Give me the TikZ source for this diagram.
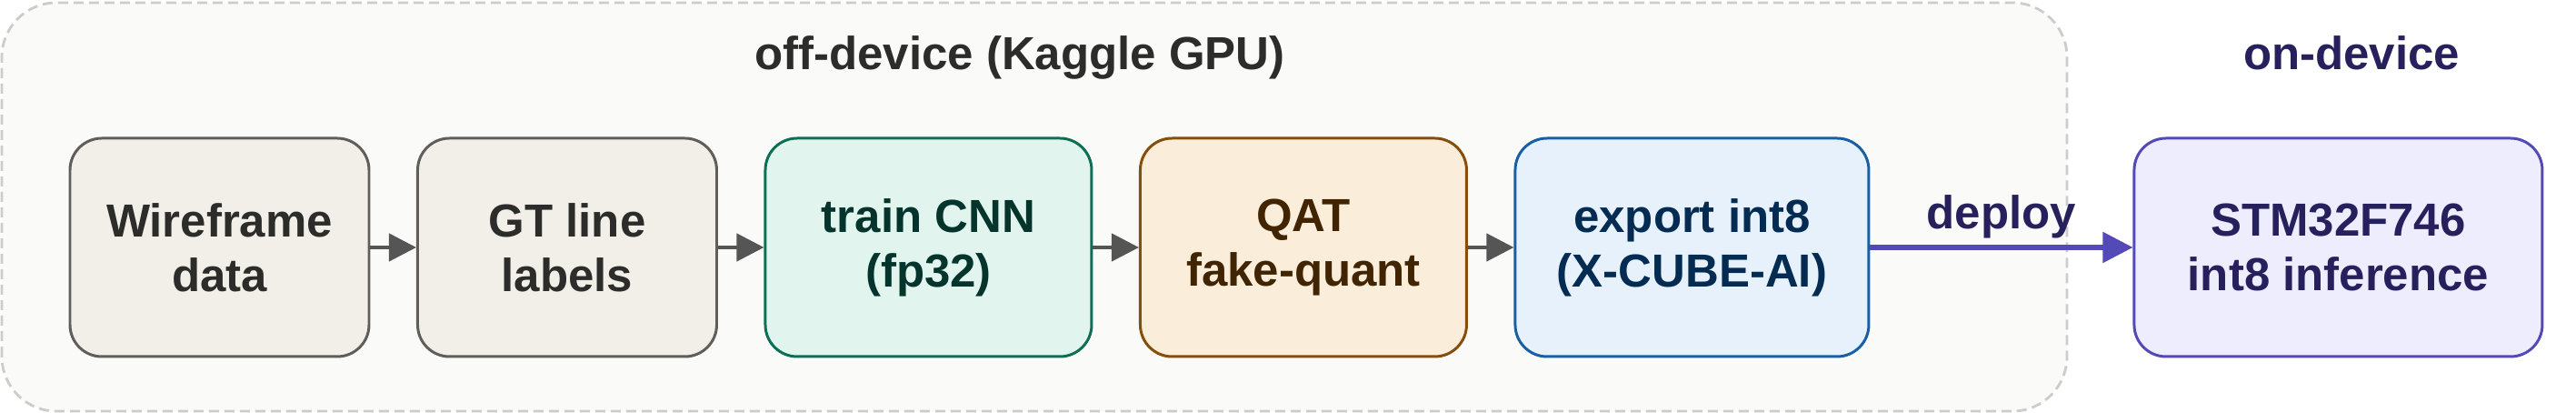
\documentclass[tikz,border=0pt]{standalone}
\usepackage{fontspec}
\setmainfont{Liberation Sans}
\usetikzlibrary{positioning,arrows.meta}

\definecolor{grayfill}{HTML}{F1EFE8}
\definecolor{graydraw}{HTML}{5F5E5A}
\definecolor{graytext}{HTML}{2C2C2A}
\definecolor{tealfill}{HTML}{E1F5EE}
\definecolor{tealdraw}{HTML}{0F6E56}
\definecolor{tealtext}{HTML}{04342C}
\definecolor{amberfill}{HTML}{FAEEDA}
\definecolor{amberdraw}{HTML}{854F0B}
\definecolor{ambertext}{HTML}{412402}
\definecolor{bluefill}{HTML}{E6F1FB}
\definecolor{bluedraw}{HTML}{185FA5}
\definecolor{bluetext}{HTML}{042C53}
\definecolor{purplefill}{HTML}{EEEDFE}
\definecolor{purpledraw}{HTML}{534AB7}
\definecolor{purpletext}{HTML}{26215C}
\definecolor{zonefill}{HTML}{FAFAF8}
\definecolor{zonedraw}{HTML}{CCCCCA}
\definecolor{flowgray}{HTML}{555555}

\begin{document}
\begin{tikzpicture}[
    bigtext/.style={font=\fontsize{14.5}{17}\selectfont\bfseries},
    stage/.style={rounded corners=0.35cm, line width=0.85pt, minimum height=2.4cm, align=center, bigtext},
    flow/.style={-{Triangle[length=0.3cm,width=0.3cm]}, line width=1.2pt, flowgray},
    node distance=0.505cm
]
    % fixed frame
    \useasboundingbox (0,0) rectangle (28.34,4.54);

    % off-device zone
    \draw[zonedraw, fill=zonefill, dash pattern=on 0.11cm off 0.06cm, line width=0.8pt, rounded corners=0.6cm] (0.02,0.02) rectangle (22.74,4.51);
    \node[anchor=base, bigtext, graytext] (offtitle) at (11.22,3.77) {off-device (Kaggle GPU)};
    \node[anchor=base, bigtext, purpletext] (ontitle) at (25.87,3.77) {on-device};

    % pipeline stages
    \node[stage, draw=graydraw, fill=grayfill, text=graytext, minimum width=3.29cm] (wire) at (2.415,1.82) {Wireframe\\data};
    \node[stage, draw=graydraw, fill=grayfill, text=graytext, minimum width=3.29cm, right=of wire] (gt) {GT line\\labels};
    \node[stage, draw=tealdraw, fill=tealfill, text=tealtext, minimum width=3.59cm, right=of gt] (train) {train CNN\\(fp32)};
    \node[stage, draw=amberdraw, fill=amberfill, text=ambertext, minimum width=3.59cm, right=of train] (qat) {QAT\\fake-quant};
    \node[stage, draw=bluedraw, fill=bluefill, text=bluetext, minimum width=3.89cm, right=of qat] (export) {export int8\\(X-CUBE-AI)};
    \node[stage, draw=purpledraw, fill=purplefill, text=purpletext, minimum width=4.49cm, right=2.89cm of export] (mcu) {STM32F746\\int8 inference};

    % arrows
    \draw[flow] (wire) -- (gt);
    \draw[flow] (gt) -- (train);
    \draw[flow] (train) -- (qat);
    \draw[flow] (qat) -- (export);
    \draw[flow, purpledraw, line width=1.45pt, -{Triangle[length=0.33cm,width=0.33cm]}] (export) -- node[above=0.07cm, inner sep=0pt, bigtext, purpletext] (deploylabel) {deploy} (mcu);
\end{tikzpicture}
\end{document}
